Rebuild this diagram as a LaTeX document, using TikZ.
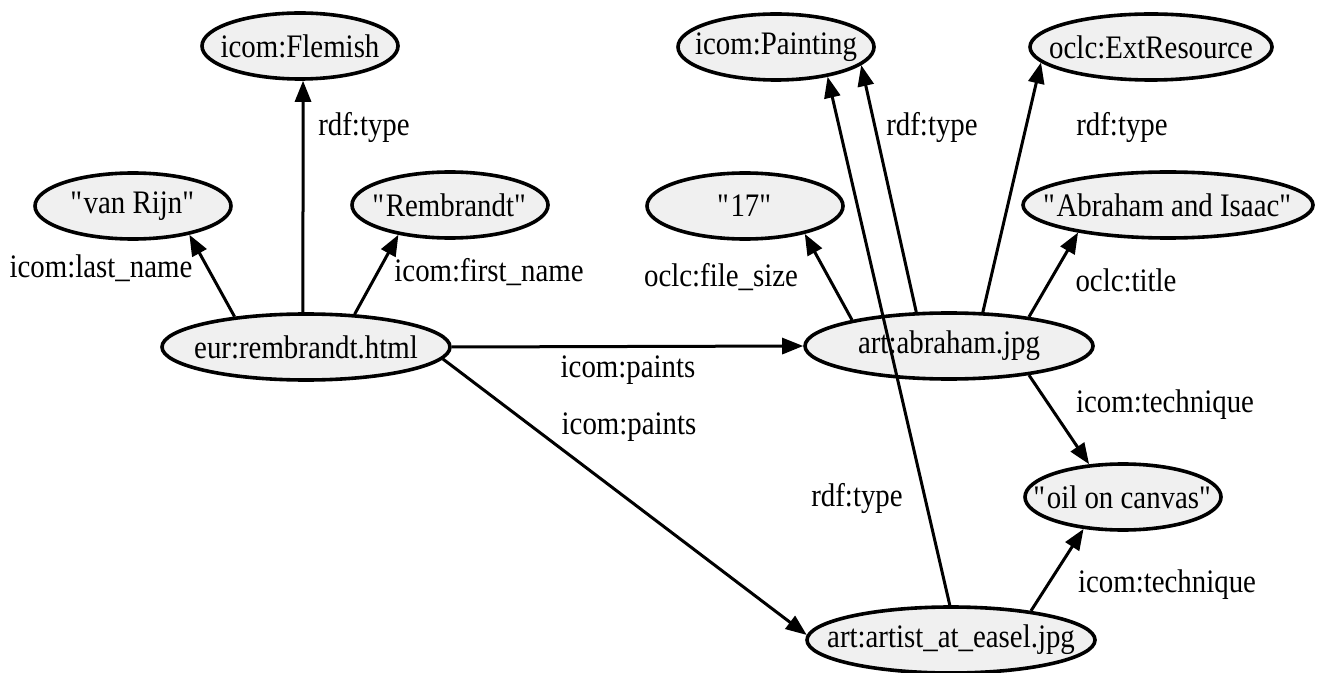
\documentclass[tikz,border=0pt]{standalone}
\usepackage{fontspec}
\setmainfont{Liberation Serif}[FakeStretch=0.88]
\usepackage{tikz}
\usetikzlibrary{arrows.meta, shapes.geometric}
\definecolor{nodeFill}{HTML}{F0F0F0}
\newcommand{\ctr}[1]{\makebox[0pt]{#1}}
\newcommand{\qt}{\textquotedbl}

\begin{document}
\begin{tikzpicture}[
  x=0.5pt, y=-0.5pt,
  every node/.style={font=\fontsize{16.4}{19}\selectfont},
  ent/.style={ellipse, draw=black, fill=nodeFill, line width=1.8pt,
              inner sep=0pt, minimum height=33pt, minimum width=#1},
  ent/.default=98pt,
  lbl/.style={inner sep=0pt},
  arr/.style={-{Triangle[length=10.5pt, width=8pt]}, line width=1.5pt},
]
  \useasboundingbox (0,0) rectangle (1326,673);

  % resources and literals
  \node[ent] (fle) at (300, 46) {\ctr{icom:Flemish}};
  \node[ent] (paint) at (776, 47) {\ctr{icom:Painting}};
  \node[ent=121pt] (ext) at (1151, 47) {\ctr{oclc:ExtResource}};
  \node[ent] (vrijn) at (133, 206) {\ctr{\qt van Rijn\qt}};
  \node[ent] (remb) at (450, 205) {\ctr{\qt Rembrandt\qt}};
  \node[ent] (size) at (745, 206) {\ctr{\qt 17\qt}};
  \node[ent=145pt] (title) at (1168, 205) {\ctr{\qt Abraham and Isaac\qt}};
  \node[ent=144pt] (eur) at (306, 347) {\ctr{eur:rembrandt.html}};
  \node[ent=144pt] (abr) at (949, 346) {\ctr{art:abraham.jpg}};
  \node[ent] (oil) at (1123, 497) {\ctr{\qt oil on canvas\qt}};
  \node[ent=144pt] (easel) at (951, 640) {\ctr{art:artist\_at\_easel.jpg}};

  % properties
  \draw[arr] (eur.157) -- (vrijn.-27);
  \draw[arr] (eur.95) -- (fle.-85);
  \draw[arr] (eur.34) -- (remb.-150);
  \draw[arr] (eur.east) -- (abr.west);
  \draw[arr] (eur.-5) -- (easel.178);
  \draw[arr] (abr.165) -- (size.-25);
  \draw[arr] (abr.134) -- (paint.-12);
  \draw[arr] (abr.45) -- (ext.188);
  \draw[arr] (abr.20) -- (title.197);
  \draw[arr] (abr.-20) -- (oil.136);
  \draw[arr] (easel.92) -- (paint.-30);
  \draw[arr] (easel.20) -- (oil.-141);

  % edge labels
  \node[lbl] (l1) at (101, 268) {icom:last\_name};
  \node[lbl] (l2) at (364, 127) {rdf:type};
  \node[lbl] (l3) at (489, 272) {icom:first\_name};
  \node[lbl] (l4) at (628, 370) {icom:paints};
  \node[lbl] (l5) at (629, 427) {icom:paints};
  \node[lbl] (l6) at (721, 277) {oclc:file\_size};
  \node[lbl] (l7) at (932, 127) {rdf:type};
  \node[lbl] (l8) at (1122, 127) {rdf:type};
  \node[lbl] (l9) at (1126, 280) {oclc:title};
  \node[lbl] (l10) at (1165, 405) {icom:technique};
  \node[lbl] (l11) at (857, 498) {rdf:type};
  \node[lbl] (l12) at (1167, 585) {icom:technique};
\end{tikzpicture}
\end{document}
